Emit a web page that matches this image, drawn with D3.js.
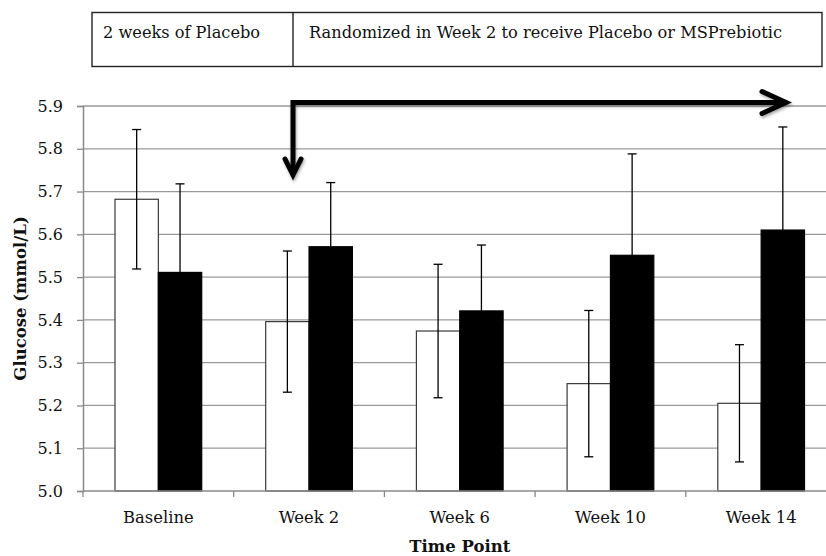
<!DOCTYPE html>
<html>
<head>
<meta charset="utf-8">
<script src="https://cdn.jsdelivr.net/npm/d3@7/dist/d3.min.js"></script>
<style>
  html, body { margin: 0; padding: 0; background: #fff; }
  svg { display: block; }
  text { font-family: "DejaVu Serif", "Liberation Serif", serif; fill: #111; }
</style>
</head>
<body>
<svg id="chart" width="826" height="556"></svg>
<script>
// ---- Data ----
const categories = ["Baseline", "Week 2", "Week 6", "Week 10", "Week 14"];
const seriesNames = ["Placebo", "MSPrebiotic"];
const placeboMean = [5.682, 5.396, 5.374, 5.251, 5.205];
const placeboErr  = [0.163, 0.165, 0.156, 0.171, 0.137];
const prebioticMean = [5.511, 5.571, 5.421, 5.551, 5.610];
const prebioticErr  = [0.207, 0.150, 0.154, 0.237, 0.241];
const yTicks = [5.0, 5.1, 5.2, 5.3, 5.4, 5.5, 5.6, 5.7, 5.8, 5.9];
const yLabel = "Glucose (mmol/L)";
const xLabel = "Time Point";
const boxLabels = ["2 weeks of Placebo", "Randomized in Week 2 to receive Placebo or MSPrebiotic"];

// ---- Layout ----
const svg = d3.select("#chart");
const plot = { left: 83, right: 836.5, top: 106, bottom: 491 };

const x = d3.scaleBand().domain(categories).range([plot.left, plot.right]).paddingInner(0).paddingOuter(0);
const xs = d3.scaleBand().domain(seriesNames).range([0, x.bandwidth()]).paddingInner(0).paddingOuter(0.738);
const y = d3.scaleLinear().domain([5.0, 5.9]).range([plot.bottom, plot.top]);

const data = categories.map((c, i) => [
  { cat: c, s: "Placebo", v: placeboMean[i], e: placeboErr[i] },
  { cat: c, s: "MSPrebiotic", v: prebioticMean[i], e: prebioticErr[i] }
]).flat();

const defs = svg.append("defs");
const f = defs.append("filter").attr("id", "shadow").attr("x", "-20%").attr("y", "-50%").attr("width", "140%").attr("height", "200%");
f.append("feDropShadow").attr("dx", 1).attr("dy", 2).attr("stdDeviation", 1.6).attr("flood-color", "#000").attr("flood-opacity", 0.35);

// ---- Gridlines ----
svg.append("g").selectAll("line")
  .data(yTicks.filter(t => t > 5.0))
  .join("line")
  .attr("x1", plot.left).attr("x2", plot.right)
  .attr("y1", d => y(d)).attr("y2", d => y(d))
  .attr("stroke", "#9a9a9a").attr("stroke-width", 1.3);

// ---- Bars ----
svg.append("g").selectAll("rect")
  .data(data)
  .join("rect")
  .attr("x", d => x(d.cat) + xs(d.s))
  .attr("y", d => y(d.v))
  .attr("width", xs.bandwidth())
  .attr("height", d => y(5.0) - y(d.v))
  .attr("fill", d => d.s === "Placebo" ? "#fff" : "#000")
  .attr("stroke", d => d.s === "Placebo" ? "#3a3a3a" : "#000")
  .attr("stroke-width", 1.2);

// ---- Error bars ----
const eb = svg.append("g").selectAll("g").data(data).join("g")
  .attr("stroke", "#000").attr("stroke-width", 1.3);
const cx = d => x(d.cat) + xs(d.s) + xs.bandwidth() / 2;
eb.append("line")
  .attr("x1", cx).attr("x2", cx)
  .attr("y1", d => y(d.v + d.e)).attr("y2", d => y(d.v - d.e));
eb.append("line")
  .attr("x1", d => cx(d) - 4.5).attr("x2", d => cx(d) + 4.5)
  .attr("y1", d => y(d.v + d.e)).attr("y2", d => y(d.v + d.e));
eb.append("line")
  .attr("x1", d => cx(d) - 4.5).attr("x2", d => cx(d) + 4.5)
  .attr("y1", d => y(d.v - d.e)).attr("y2", d => y(d.v - d.e));

// ---- Y axis ----
const yAxis = d3.axisLeft(y).tickValues(yTicks).tickFormat(d3.format(".1f")).tickSize(6).tickPadding(14);
const gy = svg.append("g").attr("transform", `translate(${plot.left},0)`).call(yAxis);
gy.select(".domain").attr("stroke", "#8a8a8a").attr("stroke-width", 1.5);
gy.selectAll(".tick line").attr("stroke", "#8a8a8a").attr("stroke-width", 1.3);
gy.selectAll(".tick text").attr("font-family", "DejaVu Serif").attr("font-size", 16).attr("fill", "#111");

// ---- X axis ----
const gx = svg.append("g").attr("transform", `translate(0,${plot.bottom})`);
gx.append("line").attr("x1", plot.left).attr("x2", plot.right).attr("y1", 0).attr("y2", 0)
  .attr("stroke", "#8a8a8a").attr("stroke-width", 1.5);
const boundaries = categories.map(c => x(c)).concat([plot.right]);
gx.selectAll("line.tk").data(boundaries).join("line").attr("class", "tk")
  .attr("x1", d => d).attr("x2", d => d).attr("y1", 0).attr("y2", 6)
  .attr("stroke", "#8a8a8a").attr("stroke-width", 1.3);
gx.selectAll("text.lbl").data(categories).join("text").attr("class", "lbl")
  .attr("x", d => x(d) + x.bandwidth() / 2).attr("y", 32)
  .attr("text-anchor", "middle").attr("font-size", 16.4).text(d => d);

// ---- Axis titles ----
svg.append("text").attr("x", (plot.left + plot.right) / 2).attr("y", 552)
  .attr("text-anchor", "middle").attr("font-size", 16.5).attr("font-weight", "bold").text(xLabel);
svg.append("text").attr("transform", `translate(26,${(plot.top + plot.bottom) / 2}) rotate(-90)`)
  .attr("text-anchor", "middle").attr("font-size", 16.5).attr("font-weight", "bold").text(yLabel);

// ---- Header box ----
const box = svg.append("g");
box.append("rect").attr("x", 92).attr("y", 12.5).attr("width", 730).attr("height", 54)
  .attr("fill", "none").attr("stroke", "#222").attr("stroke-width", 1.4);
box.append("line").attr("x1", 293).attr("x2", 293).attr("y1", 12.5).attr("y2", 66.5)
  .attr("stroke", "#222").attr("stroke-width", 1.4);
box.append("text").attr("x", 103).attr("y", 38).attr("font-size", 16.2).text(boxLabels[0]);
box.append("text").attr("x", 309).attr("y", 38).attr("font-size", 16.2).text(boxLabels[1]);

// ---- Arrow annotation ----
const arrow = svg.append("g").attr("filter", "url(#shadow)")
  .attr("fill", "none").attr("stroke", "#000").attr("stroke-width", 5)
  .attr("stroke-linecap", "round").attr("stroke-linejoin", "miter");
const ax = 293, ay = 102.5, tipX = 786, tipY = 175;
arrow.append("path").attr("d", `M${ax},${tipY - 2} L${ax},${ay} L${tipX - 2},${ay}`).attr("stroke-linecap", "butt");
arrow.append("path").attr("d", `M${tipX - 24},${ay - 11} L${tipX},${ay} L${tipX - 24},${ay + 11}`);
arrow.append("path").attr("d", `M${ax - 8},${tipY - 16} L${ax},${tipY} L${ax + 8},${tipY - 16}`);
</script>
</body>
</html>
